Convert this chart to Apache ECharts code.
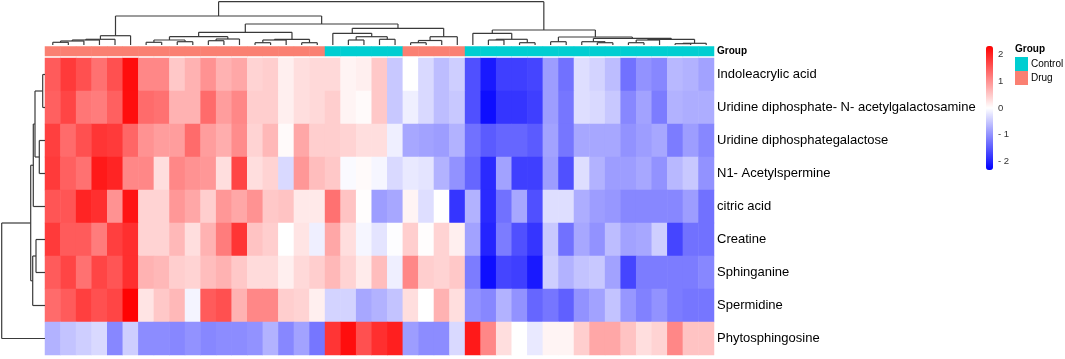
<!DOCTYPE html>
<html>
<head>
<meta charset="utf-8">
<script src="https://cdn.jsdelivr.net/npm/echarts@6/dist/echarts.min.js"></script>
<style>
  html, body { margin: 0; padding: 0; background: #fff; }
  #main { width: 1065px; height: 359px; }
</style>
</head>
<body>
<div id="main"></div>
<script>
// metabolites, top to bottom
const metabolites = [
  "Indoleacrylic acid",
  "Uridine diphosphate- N- acetylgalactosamine",
  "Uridine diphosphategalactose",
  "N1- Acetylspermine",
  "citric acid",
  "Creatine",
  "Sphinganine",
  "Spermidine",
  "Phytosphingosine"
];

// sample group of each column (43 samples, dendrogram order)
const groupNames = ["Control", "Drug"];
const groups = [
  "Drug","Drug","Drug","Drug","Drug","Drug","Drug","Drug","Drug","Drug","Drug",
  "Drug","Drug","Drug","Drug","Drug","Drug","Drug",
  "Control","Control","Control","Control","Control",
  "Drug","Drug","Drug","Drug",
  "Control","Control","Control","Control","Control","Control","Control","Control",
  "Control","Control","Control","Control","Control","Control","Control","Control"
];

// scaled abundance (z-score) per metabolite
const indoleacrylicAcid = [1.5, 1.8, 1.6, 1.3, 1.6, 2.2, 1.1, 1.1, 0.5, 0.7, 1.0,
  0.7, 0.8, 0.4, 0.45, 0.15, 0.3, 0.35, 0.35, 0.1, 0.15, 0.5,
  -0.5, 0.0, -0.35, -0.6, -0.45, -1.6, -2.1, -1.75, -1.75, -1.7, -0.9,
  -1.3, -0.3, -0.4, -0.6, -1.3, -1.0, -1.1, -0.65, -0.7, -0.85];
const udpGalNAc = [1.45, 1.7, 1.25, 1.2, 1.45, 2.2, 1.35, 1.3, 0.7, 0.7, 1.35,
  0.9, 1.1, 0.45, 0.45, 0.15, 0.3, 0.35, 0.45, 0.1, 0.05, 0.5,
  -0.5, -0.15, -0.35, -0.6, -0.5, -1.6, -2.2, -1.85, -1.85, -1.75, -0.9,
  -1.25, -0.3, -0.35, -0.5, -1.1, -0.85, -1.2, -0.7, -0.75, -0.75];
const udpGalactose = [1.75, 1.35, 1.6, 1.85, 1.8, 1.4, 1.0, 0.9, 0.9, 1.35, 0.9,
  0.75, 1.05, 0.4, 0.65, 0.05, 0.8, 0.45, 0.45, 0.4, 0.3, 0.3,
  -0.15, -0.8, -0.85, -0.9, -0.7, -1.3, -1.5, -1.4, -1.4, -1.5, -0.85,
  -1.25, -0.8, -0.8, -0.8, -1.0, -0.9, -0.8, -1.2, -0.9, -1.1];
const acetylspermine = [1.8, 1.45, 1.3, 2.1, 2.0, 1.1, 1.1, 0.3, 1.1, 1.0, 0.95,
  0.3, 1.7, 0.3, 0.4, -0.35, 0.95, 0.6, 0.5, -0.05, 0.05, -0.08,
  -0.35, -0.2, -0.25, -0.7, -1.0, -1.4, -1.95, -0.85, -1.75, -1.75, -0.9,
  -1.6, -0.3, -0.7, -0.9, -0.9, -0.8, -1.0, -0.65, -0.5, -1.0];
const citricAcid = [1.55, 1.55, 2.0, 1.9, 1.0, 2.15, 0.4, 0.4, 0.95, 0.8, 0.45,
  0.95, 0.8, 1.0, 0.5, 0.55, 0.2, 0.2, 1.3, 0.55, 0.02, -0.9,
  -0.8, 0.1, -0.3, 0.0, -1.85, -0.7, -1.95, -1.3, -0.8, -1.6, -0.3,
  -0.3, -0.75, -0.9, -0.95, -1.1, -1.1, -1.1, -1.1, -0.9, -1.3];
const creatine = [1.8, 1.5, 1.5, 1.2, 1.75, 1.9, 0.4, 0.4, 0.65, 0.3, 0.7,
  1.2, 1.85, 0.55, 0.45, 0.0, 0.25, -0.15, 0.8, 0.3, -0.08, -0.25,
  -0.02, 0.45, 0.02, 0.4, 0.15, -0.85, -2.0, -1.2, -1.6, -1.85, -0.5,
  -1.3, -0.8, -1.0, -0.6, -0.85, -0.8, -0.45, -1.7, -1.3, -1.3];
const sphinganine = [1.5, 1.7, 1.3, 1.7, 1.55, 1.9, 0.7, 0.65, 0.45, 0.4, 0.6,
  0.7, 0.5, 0.33, 0.33, 0.15, 0.35, 0.45, 0.65, 0.4, 0.18, 0.6,
  -0.15, 1.1, 0.45, 0.4, 0.5, -1.2, -2.2, -1.7, -1.75, -2.1, -0.45,
  -0.7, -0.55, -0.5, -0.85, -1.7, -1.2, -1.2, -1.2, -1.2, -1.1];
const spermidine = [1.35, 1.5, 1.75, 1.6, 1.7, 2.3, 0.25, 0.5, 0.65, -0.1, 1.5,
  1.6, 0.7, 1.1, 1.1, 0.45, 0.4, 0.15, -0.4, -0.4, -0.8, -0.7,
  -0.55, 0.3, 0.0, 0.7, 0.3, -1.0, -1.1, -0.7, -1.0, -1.4, -1.25,
  -1.45, -1.0, -0.85, -0.55, -0.95, -1.15, -1.0, -1.2, -1.25, -1.25];
const phytosphingosine = [-0.7, -0.55, -0.45, -0.35, -1.1, -0.45, -1.05, -1.05, -1.1, -1.0, -1.1,
  -1.05, -1.05, -1.0, -0.7, -1.1, -0.85, -1.25, 1.85, 2.2, 1.6, 1.9,
  2.05, -0.9, -1.05, -1.05, -0.35, 2.1, 1.1, 0.3, 0.0, -0.2, 0.1,
  0.1, 0.45, 0.8, 0.8, 0.55, 0.3, 0.4, 1.1, 0.55, 0.55];

const rows = [indoleacrylicAcid, udpGalNAc, udpGalactose, acetylspermine, citricAcid,
  creatine, sphinganine, spermidine, phytosphingosine];

// column clustering: [height, left, right], leaves are column indexes
const colTree = [43.3,
  [29,
    [9.3, [5.7, [5, [4, [2.7, 0, 1], 2], 3], 4], 5],
    [21,
      [12.7,
        [8.3, [5, [2.7, 6, 7], [3.3, 8, 9]], [6, [4.3, 10, 11], 12]],
        [5.7, [5, [2.3, 13, 14], 15], [2.3, 16, 17]]],
      [16.7,
        [11.7, 18, [8.3, [5, 19, 20], [5.7, 21, 22]]],
        [8.3, [4.5, [2.3, 23, 24], 25], 26]]]],
  [15,
    [11.7, 27, [5.7, [5, 28, 29], [2.3, 30, 31]]],
    [8, [3.3, 32, 33],
      [6.7, [3.3, 34, [2.3, 35, 36]],
        [5.7, [5, [2.3, 37, 38], 39], [1.7, [1.3, 40, 41], 42]]]]]];

// row clustering
const rowTree = [43.3,
  [14.3,
    [11.7, [10, [2.3, 0, 1], [5.7, 2, 3]], 4],
    [12.3, [9, 5, 6], 7]],
  8];

const groupColors = ["#00CED1", "#FA8072"];
const nCols = groups.length;
const colNames = groups.map((g, i) => "S" + (i + 1));

// build heatmap data
const heatData = [];
rows.forEach((r, ri) => r.forEach((v, ci) => heatData.push([ci, ri, v])));
const groupData = groups.map((g, ci) => [ci, 0, groupNames.indexOf(g)]);

// dendrogram segments: returns [pos, height]
function walk(node, segs) {
  if (typeof node === "number") return [node + 0.5, 0];
  const a = walk(node[1], segs);
  const b = walk(node[2], segs);
  const h = node[0];
  segs.push([a[0], a[1], a[0], h]);
  segs.push([b[0], b[1], b[0], h]);
  segs.push([a[0], h, b[0], h]);
  return [(a[0] + b[0]) / 2, h];
}
const topSegs = [];
walk(colTree, topSegs);
const leftSegs = [];
walk(rowTree, leftSegs);
// left dendrogram: x = height, y = row position
const leftSegsXY = leftSegs.map(s => [s[1], s[0], s[3], s[2]]);

function segRender(params, api) {
  const p1 = api.coord([api.value(0), api.value(1)]);
  const p2 = api.coord([api.value(2), api.value(3)]);
  return {
    type: "line",
    shape: { x1: p1[0], y1: p1[1], x2: p2[0], y2: p2[1] },
    style: { stroke: "#3a3a3a", lineWidth: 1.2 }
  };
}

const HM_LEFT = 45, HM_W = 669;
const font = "Liberation Sans, Arial, sans-serif";

const chart = echarts.init(document.getElementById("main"));
chart.setOption({
  animation: false,
  textStyle: { fontFamily: font },
  title: {
    text: "Group", left: 1015, top: 44, padding: 0,
    textStyle: { fontSize: 10, fontWeight: "bold", color: "#000", fontFamily: font }
  },
  visualMap: [
    {
      type: "continuous", seriesIndex: 0,
      min: -2.33, max: 2.33, calculable: false,
      left: 986, top: 46, itemWidth: 7, itemHeight: 124, padding: 0,
      inRange: { color: ["#0000FF", "#FFFFFF", "#FF0000"] },
      textStyle: { fontSize: 9 }
    },
    {
      type: "piecewise", seriesIndex: 1, dimension: 2, inverse: true,
      pieces: groupNames.map((g, i) => ({ value: i, label: g, color: groupColors[i] })),
      orient: "vertical", left: 1015, top: 57, padding: 0,
      itemWidth: 13, itemHeight: 14, itemGap: 0, itemSymbol: "rect", textGap: 3,
      selectedMode: false, align: "left",
      textStyle: { fontSize: 10, color: "#000", fontFamily: font }
    }
  ],
  grid: [
    { left: HM_LEFT, top: 58, width: HM_W, height: 297 },      // heatmap
    { left: HM_LEFT, top: 46.5, width: HM_W, height: 9.5 },    // group bar
    { left: HM_LEFT, top: 1.5, width: HM_W, height: 43.5 },    // top dendrogram
    { left: 0, top: 58, width: 45, height: 297 },             // left dendrogram
    { left: 994, top: 46, width: 1, height: 124 }              // color scale labels
  ],
  xAxis: [
    { gridIndex: 0, type: "category", data: colNames, show: false },
    { gridIndex: 1, type: "category", data: colNames, show: false },
    { gridIndex: 2, type: "value", min: 0, max: nCols, show: false },
    { gridIndex: 3, type: "value", min: 0, max: 45, inverse: true, show: false },
    { gridIndex: 4, type: "value", show: false }
  ],
  yAxis: [
    {
      gridIndex: 0, type: "category", data: metabolites, inverse: true, position: "right",
      axisLine: { show: false }, axisTick: { show: false },
      axisLabel: { fontSize: 13, color: "#000", margin: 3 }
    },
    {
      gridIndex: 1, type: "category", data: ["Group"], position: "right",
      axisLine: { show: false }, axisTick: { show: false },
      axisLabel: { fontSize: 10, fontWeight: "bold", color: "#000", margin: 3 }
    },
    { gridIndex: 2, type: "value", min: 0, max: 43.5, show: false },
    { gridIndex: 3, type: "value", min: 0, max: metabolites.length, inverse: true, show: false },
    {
      gridIndex: 4, type: "value", min: -2.33, max: 2.33, position: "right",
      axisLine: { show: false }, axisTick: { show: false }, splitLine: { show: false },
      axisLabel: {
        customValues: [-2, -1, 0, 1, 2], fontSize: 9.5, color: "#333", margin: 3,
        formatter: v => (v < 0 ? "- " + Math.abs(v) : String(v))
      }
    }
  ],
  series: [
    {
      type: "heatmap", xAxisIndex: 0, yAxisIndex: 0, data: heatData,
      itemStyle: { borderWidth: 0 }, emphasis: { disabled: true }
    },
    {
      type: "heatmap", xAxisIndex: 1, yAxisIndex: 1, data: groupData,
      itemStyle: { borderWidth: 0 }, emphasis: { disabled: true }
    },
    {
      type: "custom", xAxisIndex: 2, yAxisIndex: 2, data: topSegs,
      renderItem: segRender, silent: true
    },
    {
      type: "custom", xAxisIndex: 3, yAxisIndex: 3, data: leftSegsXY,
      renderItem: segRender, silent: true
    }
  ]
});
</script>
</body>
</html>
